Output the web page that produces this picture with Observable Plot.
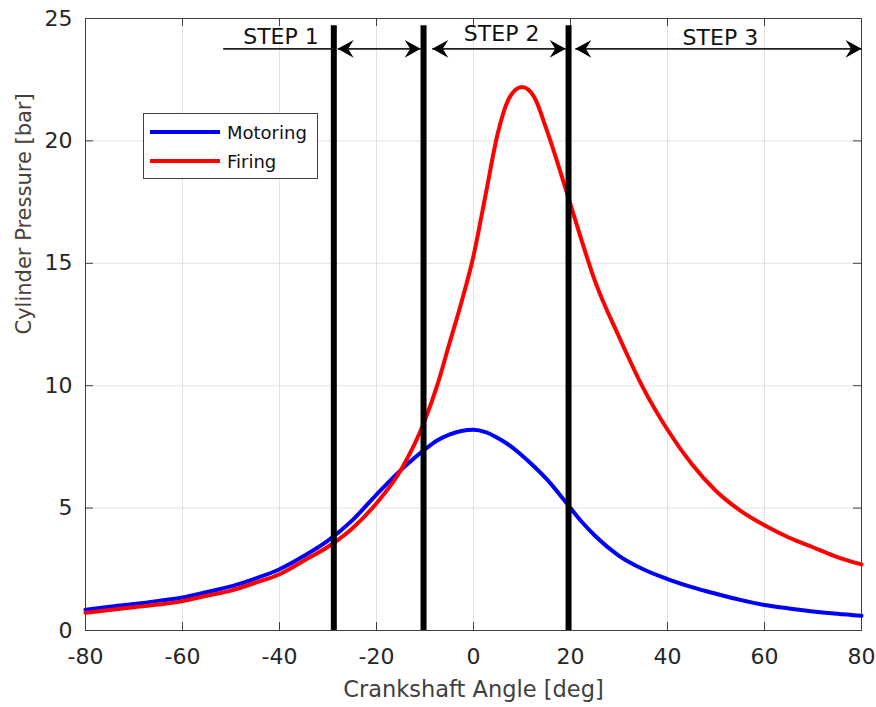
<!DOCTYPE html>
<html><head><meta charset="utf-8">
<script src="https://cdn.jsdelivr.net/npm/d3@7"></script>
<script src="https://cdn.jsdelivr.net/npm/@observablehq/plot@0.6"></script>
<style>
body{margin:0;background:#fff;}
#wrap{position:relative;width:876px;height:707px;font-family:"DejaVu Sans",sans-serif;}
#legend{position:absolute;left:143px;top:113px;width:175px;height:66px;box-sizing:border-box;border:1px solid #404040;background:#fff;}
.lrow{position:absolute;left:6px;height:20px;display:flex;align-items:center;font-size:18px;color:#111;}
.lsw{display:inline-block;width:70px;height:4px;margin-right:7px;}
</style></head><body><div id="wrap"></div>
<script>
// crank angle samples [deg]
const angle = [-80,-75,-70,-65,-60,-55,-50,-45,-40,-35,-30,-25,-20,-15,-10,-7.5,-5,-2.5,0,2.5,5,7.5,10,12.5,15,17.5,20,22.5,25,30,35,40,45,50,55,60,65,70,75,80];
// cylinder pressure [bar]
const motoring = [0.85,0.97,1.08,1.21,1.35,1.57,1.8,2.12,2.5,3.04,3.67,4.5,5.55,6.55,7.4,7.76,8.0,8.15,8.2,8.1,7.86,7.55,7.15,6.7,6.2,5.62,5.0,4.4,3.88,3.05,2.5,2.1,1.77,1.5,1.25,1.04,0.9,0.78,0.68,0.6];
const firing   = [0.72,0.84,0.95,1.06,1.2,1.42,1.63,1.95,2.3,2.85,3.42,4.17,5.2,6.55,8.6,10.0,11.7,13.4,15.3,17.8,20.3,21.8,22.2,21.8,20.5,19.0,17.4,15.8,14.3,12.0,9.9,8.2,6.8,5.7,4.9,4.3,3.8,3.4,3.0,2.7];
const seriesNames = ["Motoring","Firing"];
const seriesColors = ["#0000ff","#ff0000"];
const xTicks = [-80,-60,-40,-20,0,20,40,60,80];
const yTicks = [0,5,10,15,20,25];
// step boundaries and annotations
const stepBounds = [-28.8,-10.3,19.6];
const stepTop = 24.7;
const stepLabels = ["STEP 1","STEP 2","STEP 3"];
const stepLabelX = [-39.7,5.8,50.9];
const stepLabelY = [24.25,24.37,24.22];
const step1LineStart = -51.5;
const arrowX1 = [-28.0,-8.5,21.0];
const arrowX2 = [-10.9,19.0,80];
const arrowY = 23.76;

const W = 876, H = 707, mL = 85, mR = 15, mT = 18, mB = 77;
const innerW = W - mL - mR, innerH = H - mT - mB, tickLen = 8;

const rowsM = angle.map((a,i)=>({angle:a, p:motoring[i]}));
const rowsF = angle.map((a,i)=>({angle:a, p:firing[i]}));

const arrowHead = {draw(ctx, size){
  const r = Math.sqrt(size/Math.PI);
  const L = 1.45*r, Wd = 0.8*r, N = 0.95*r;
  ctx.moveTo(0,0); ctx.lineTo(-L,-Wd); ctx.lineTo(-N,0); ctx.lineTo(-L,Wd); ctx.closePath();
}};

const plot = Plot.plot({
  width: W, height: H,
  marginLeft: mL, marginRight: mR, marginTop: mT, marginBottom: mB,
  x: {domain: [-80,80]},
  y: {domain: [0,25]},
  style: {fontFamily: "DejaVu Sans, sans-serif", fontSize: "22px", color: "#262626", background: "#fff"},
  marks: [
    Plot.gridX(xTicks, {stroke: "#000", strokeOpacity: 0.11}),
    Plot.gridY(yTicks, {stroke: "#000", strokeOpacity: 0.11}),
    Plot.axisX(xTicks, {tickSize: 0, tickPadding: 18, fontSize: 22, label: null, fill: "#262626", tickFormat: d => String(d)}),
    Plot.axisY(yTicks, {tickSize: 0, tickPadding: 13, fontSize: 22, label: null, fill: "#262626", tickFormat: d => String(d)}),
    Plot.tickX(xTicks, {x: d=>d, insetTop: innerH - tickLen, stroke: "#404040"}),
    Plot.tickX(xTicks, {x: d=>d, insetBottom: innerH - tickLen, stroke: "#404040"}),
    Plot.tickY(yTicks, {y: d=>d, insetLeft: innerW - tickLen, stroke: "#404040"}),
    Plot.tickY(yTicks, {y: d=>d, insetRight: innerW - tickLen, stroke: "#404040"}),
    Plot.frame({stroke: "#404040"}),
    Plot.line(rowsM, {x: "angle", y: "p", stroke: seriesColors[0], strokeWidth: 4, curve: "monotone-x"}),
    Plot.line(rowsF, {x: "angle", y: "p", stroke: seriesColors[1], strokeWidth: 4, curve: "monotone-x"}),
    Plot.ruleX(stepBounds, {x: d=>d, y1: 0, y2: stepTop, stroke: "#000", strokeWidth: 6}),
    // STEP 1 leader line
    Plot.ruleY([arrowY], {y: d=>d, x1: step1LineStart, x2: stepBounds[0], stroke: "#222", strokeWidth: 1.6}),
    // double arrows
    Plot.link(arrowX1, {x1: d=>d, x2: (d,i)=>arrowX2[i], y1: arrowY, y2: arrowY, stroke: "#222", strokeWidth: 1.6}),
    Plot.dot(arrowX1, {x: d=>d, y: arrowY, symbol: arrowHead, r: 11, fill: "#000", stroke: "none", rotate: 180}),
    Plot.dot(arrowX2, {x: d=>d, y: arrowY, symbol: arrowHead, r: 11, fill: "#000", stroke: "none"}),
    Plot.text(stepLabels, {x: (d,i)=>stepLabelX[i], y: (d,i)=>stepLabelY[i], text: d=>d, fontSize: 22, fill: "#111", lineAnchor: "middle"}),
    // axis titles
    Plot.text(["Crankshaft Angle [deg]"], {frameAnchor: "bottom", dy: 59, text: d=>d, fontSize: 22.5, fill: "#404040", lineAnchor: "middle"}),
    Plot.text(["Cylinder Pressure [bar]"], {frameAnchor: "left", dx: -61, dy: 10, rotate: -90, text: d=>d, fontSize: 21, fill: "#4a4038", lineAnchor: "middle"})
  ]
});
const wrap = document.getElementById("wrap");
wrap.appendChild(plot);

const legend = document.createElement("div");
legend.id = "legend";
seriesNames.forEach((name,i)=>{
  const row = document.createElement("div");
  row.className = "lrow";
  row.style.top = (8 + i*29) + "px";
  const sw = document.createElement("span");
  sw.className = "lsw";
  sw.style.background = seriesColors[i];
  const t = document.createElement("span");
  t.textContent = name;
  row.appendChild(sw); row.appendChild(t);
  legend.appendChild(row);
});
wrap.appendChild(legend);
</script>
</body></html>
